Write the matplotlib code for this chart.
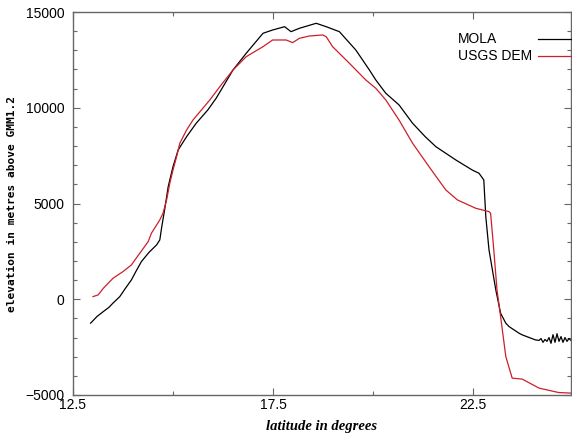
import matplotlib
matplotlib.use("Agg")
import matplotlib.pyplot as plt
from matplotlib.ticker import FixedLocator, MultipleLocator

mola_lat = [12.94, 13.10, 13.26, 13.40, 13.50, 13.67, 13.80, 13.96, 14.08, 14.21, 14.40,
            14.59, 14.67, 14.72, 14.79, 14.88, 15.0,
            15.13, 15.34, 15.58, 15.87, 16.08, 16.5, 16.83, 17.25, 17.49, 17.79, 17.95, 18.16, 18.58,
            18.83, 19.16, 19.57, 19.91, 20.07, 20.32, 20.65, 20.99, 21.3, 21.57, 22.07, 22.48,
            22.65, 22.77, 22.82, 22.9, 23.07, 23.19, 23.32, 23.4, 23.65, 23.73, 24.06, 24.15,
            24.2, 24.25, 24.3, 24.35, 24.4, 24.45, 24.5, 24.55, 24.6, 24.65, 24.7, 24.75,
            24.8, 24.85, 24.9, 24.95]
mola_elev = [-1250, -900, -640, -420, -200, 138, 540, 1010, 1480, 1967, 2450,
             2837, 3098, 3800, 4666, 5880, 6925,
             7800, 8490, 9190, 9884, 10500, 11972, 12844, 13888, 14060, 14233, 13972, 14150, 14410,
             14233, 13972, 13016, 11972, 11450, 10756, 10150, 9190, 8500, 7970, 7274, 6750,
             6580, 6230, 4315, 2576, 488, -728, -1250, -1425, -1772, -1860, -2122, -2150,
             -2050, -2250, -2100, -2200, -2000, -2300, -1850, -2250, -1800, -2200, -1950, -2250,
             -2000, -2200, -2050, -2150]

usgs_lat = [13.00, 13.13, 13.26, 13.50, 13.75, 13.96, 14.17, 14.38, 14.46, 14.67, 14.75, 14.84,
            14.92, 15.0, 15.09, 15.17, 15.34, 15.5, 15.71, 15.92, 16.17, 16.5, 16.83, 17.25,
            17.49, 17.83, 17.99, 18.16, 18.41, 18.74, 18.83, 18.99, 19.41, 19.82, 20.07, 20.32,
            20.65, 20.99, 21.4, 21.82, 22.11, 22.57, 22.9, 22.94, 23.02, 23.1, 23.19, 23.32,
            23.48, 23.73, 24.15, 24.64, 24.94]
usgs_elev = [138, 228, 576, 1096, 1444, 1793, 2405, 3010, 3447, 4142, 4490, 5186,
             6056, 6750, 7447, 8146, 8840, 9362, 9884, 10406, 11100, 11972, 12667, 13190,
             13538, 13538, 13400, 13627, 13747, 13800, 13711, 13190, 12322, 11450, 11017, 10406,
             9362, 8146, 6925, 5708, 5186, 4750, 4576, 4490, 2576, 488, -900, -2990,
             -4120, -4170, -4640, -4870, -4900]

x_major = [12.5, 17.5, 22.5]
x_minor = [15.0, 20.0]
y_major = [-5000, 0, 5000, 10000, 15000]

fig = plt.figure(figsize=(5.72, 4.37), dpi=100)
ax = fig.add_axes([73/572, 42/437, 498/572, 383/437])

ax.plot(mola_lat, mola_elev, color="black", lw=0.9)
ax.plot(usgs_lat, usgs_elev, color="#cc1f2a", lw=0.9)

ax.set_xlim(12.5, 24.95)
ax.set_ylim(-5000, 15000)

ax.xaxis.set_major_locator(FixedLocator(x_major))
ax.xaxis.set_minor_locator(FixedLocator(x_minor))
ax.yaxis.set_major_locator(FixedLocator(y_major))
ax.yaxis.set_minor_locator(MultipleLocator(1000))
ax.set_xticklabels([str(v) for v in x_major])
ax.set_yticklabels([str(v).replace('-', '\u2212') for v in y_major])

spine_col = "#666666"
for s in ax.spines.values():
    s.set_color(spine_col)
    s.set_linewidth(1.0)

ax.tick_params(which="both", direction="in", top=True, right=True, color=spine_col,
               labelsize=10, labelcolor="black")
ax.tick_params(which="major", length=5, width=0.8)
ax.tick_params(which="minor", length=3, width=0.8)
ax.tick_params(axis="y", pad=6)
ax.tick_params(axis="x", pad=2)
for lab in ax.get_xticklabels() + ax.get_yticklabels():
    lab.set_fontfamily("Liberation Sans")

ax.set_ylabel("elevation in metres above GMM1.2", fontfamily="DejaVu Sans Mono",
              fontweight="bold", fontsize=8, labelpad=6)
ax.set_xlabel("latitude in degrees", fontfamily="Liberation Serif", fontstyle="italic",
              fontweight="bold", fontsize=10.5, labelpad=6)

# legend
leg_items = [("MOLA", "black", 39), ("USGS DEM", "#cc1f2a", 56)]
for label, col, ypx in leg_items:
    yf = (437 - ypx) / 437
    fig.text(458/572, yf, label, fontfamily="Liberation Sans", fontsize=10,
             va="center", ha="left")
    fig.add_artist(plt.Line2D([538/572, 1.0], [yf, yf], color=col, lw=0.9,
                              transform=fig.transFigure))

fig.savefig("out.png", dpi=100)
